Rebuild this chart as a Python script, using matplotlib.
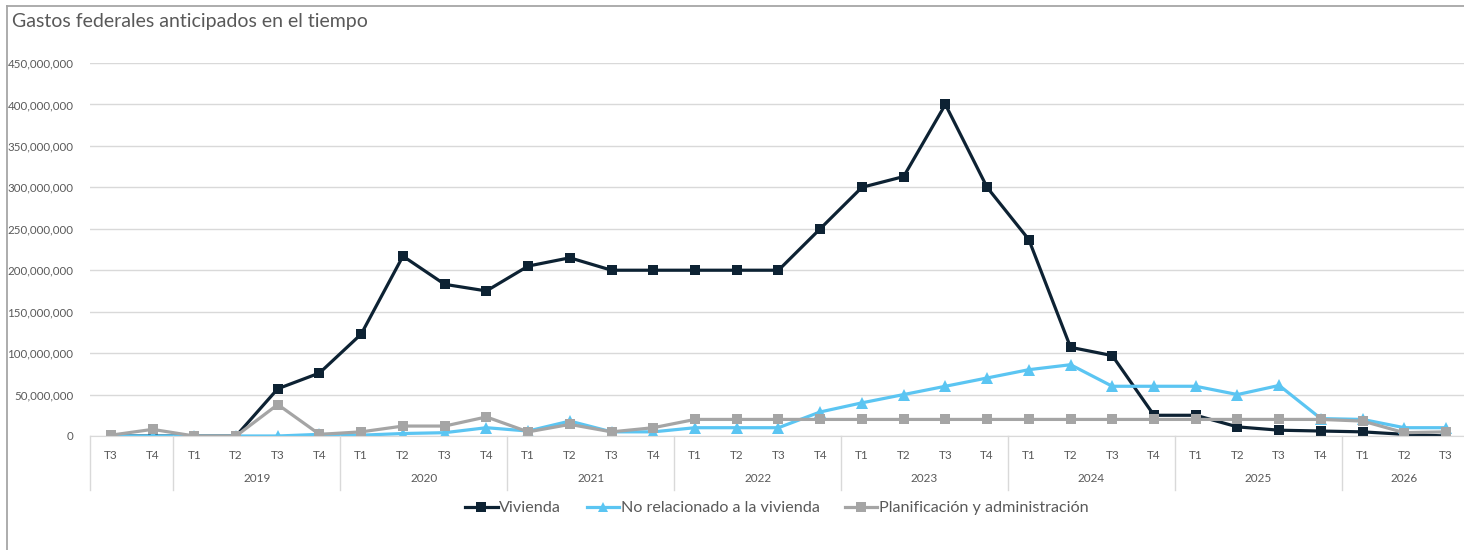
import matplotlib
matplotlib.use("Agg")
import matplotlib.pyplot as plt
from matplotlib.lines import Line2D
from matplotlib.ticker import FuncFormatter

plt.rcParams["font.family"] = ["Lato", "DejaVu Sans"]

TITLE = "Gastos federales anticipados en el tiempo"

QUARTERS = ["T3", "T4"] + ["T1", "T2", "T3", "T4"] * 7 + ["T1", "T2", "T3"]
YEARS = ["", "2019", "2020", "2021", "2022", "2023", "2024", "2025", "2026"]
YEAR_SIZES = [2, 4, 4, 4, 4, 4, 4, 4, 3]

M = 1_000_000
vivienda = [0, 0,
            0, 0, 57, 76,
            123, 217, 183, 175,
            205, 215, 200, 200,
            200, 200, 200, 250,
            300, 313, 400, 300,
            237, 107, 97, 25,
            25, 11, 7, 6,
            5, 2, 0]
no_relacionado = [0, 0,
                  0, 0, 0, 2,
                  1, 3, 4, 10,
                  6, 18, 5, 5,
                  10, 10, 10, 29,
                  40, 50, 60, 70,
                  80, 86, 60, 60,
                  60, 50, 61, 21,
                  20, 10, 10]
planificacion = [1, 8,
                 0, 0, 38, 2,
                 5, 12, 12, 23,
                 5, 14, 5, 10,
                 20, 20, 20, 20,
                 20, 20, 20, 20,
                 20, 20, 20, 20,
                 20, 20, 20, 20,
                 18, 4, 5]

SERIES = [
    ("Vivienda", vivienda, "#0d2233", "s"),
    ("No relacionado a la vivienda", no_relacionado, "#5bc5f2", "^"),
    ("Planificación y administración", planificacion, "#a5a5a5", "s"),
]

TEXT = "#595959"
GRID = "#d9d9d9"

W, H = 1464, 550
fig = plt.figure(figsize=(W / 100, H / 100), dpi=100)
ax = fig.add_axes([90 / W, 114 / H, 1 - 90 / W + 0.002, 373 / H])

x = list(range(len(QUARTERS)))
for name, values, color, marker in SERIES:
    ax.plot(x, [v * M for v in values], color=color, lw=2.3, marker=marker,
            markersize=7.5 if marker == "s" else 8, markeredgewidth=0,
            label=name, solid_joinstyle="round")

ax.set_xlim(-0.5, len(QUARTERS) - 0.5)
ax.set_ylim(0, 450 * M)
ax.set_yticks([i * 50 * M for i in range(10)])
ax.yaxis.set_major_formatter(FuncFormatter(lambda v, _: f"{int(v):,}"))
ax.grid(axis="y", color=GRID, lw=1)
ax.set_axisbelow(True)
for side in ["top", "right", "left"]:
    ax.spines[side].set_visible(False)
ax.spines["bottom"].set_color(GRID)
ax.tick_params(axis="y", length=0, pad=12, labelsize=8.3, labelcolor=TEXT)
ax.tick_params(axis="x", length=0, pad=10, labelsize=8.5, labelcolor=TEXT)
ax.set_xticks(x)
ax.set_xticklabels(QUARTERS)

# second category level: year groups with separators
trans = ax.get_xaxis_transform()
start = 0
bounds = [-0.5]
for year, size in zip(YEARS, YEAR_SIZES):
    mid = start + (size - 1) / 2
    ax.text(mid, -43 / 373, year, transform=trans, ha="center", va="center",
            fontsize=8.5, color=TEXT)
    start += size
    bounds.append(start - 0.5)
for b in bounds[:-1]:
    ax.add_line(Line2D([b, b], [0, -54 / 373], transform=trans, color=GRID,
                       lw=1, clip_on=False))

fig.text(12 / W, 1 - 22 / H, TITLE, ha="left", va="center", fontsize=14, color=TEXT)

leg = fig.legend(loc="center", bbox_to_anchor=(777 / W, 1 - 508 / H), ncol=3,
                 frameon=False, fontsize=11.6, handlelength=2.0, handletextpad=0.1,
                 columnspacing=1.6, labelcolor=TEXT, markerscale=0.9)

# chart frame
fig.add_artist(Line2D([7.5 / W, 7.5 / W], [0, 1 - 5.5 / H], color="#a6a6a6", lw=1.3))
fig.add_artist(Line2D([7.5 / W, 1], [1 - 5.5 / H, 1 - 5.5 / H], color="#a6a6a6", lw=1.3))

fig.savefig("out.png", dpi=100)
